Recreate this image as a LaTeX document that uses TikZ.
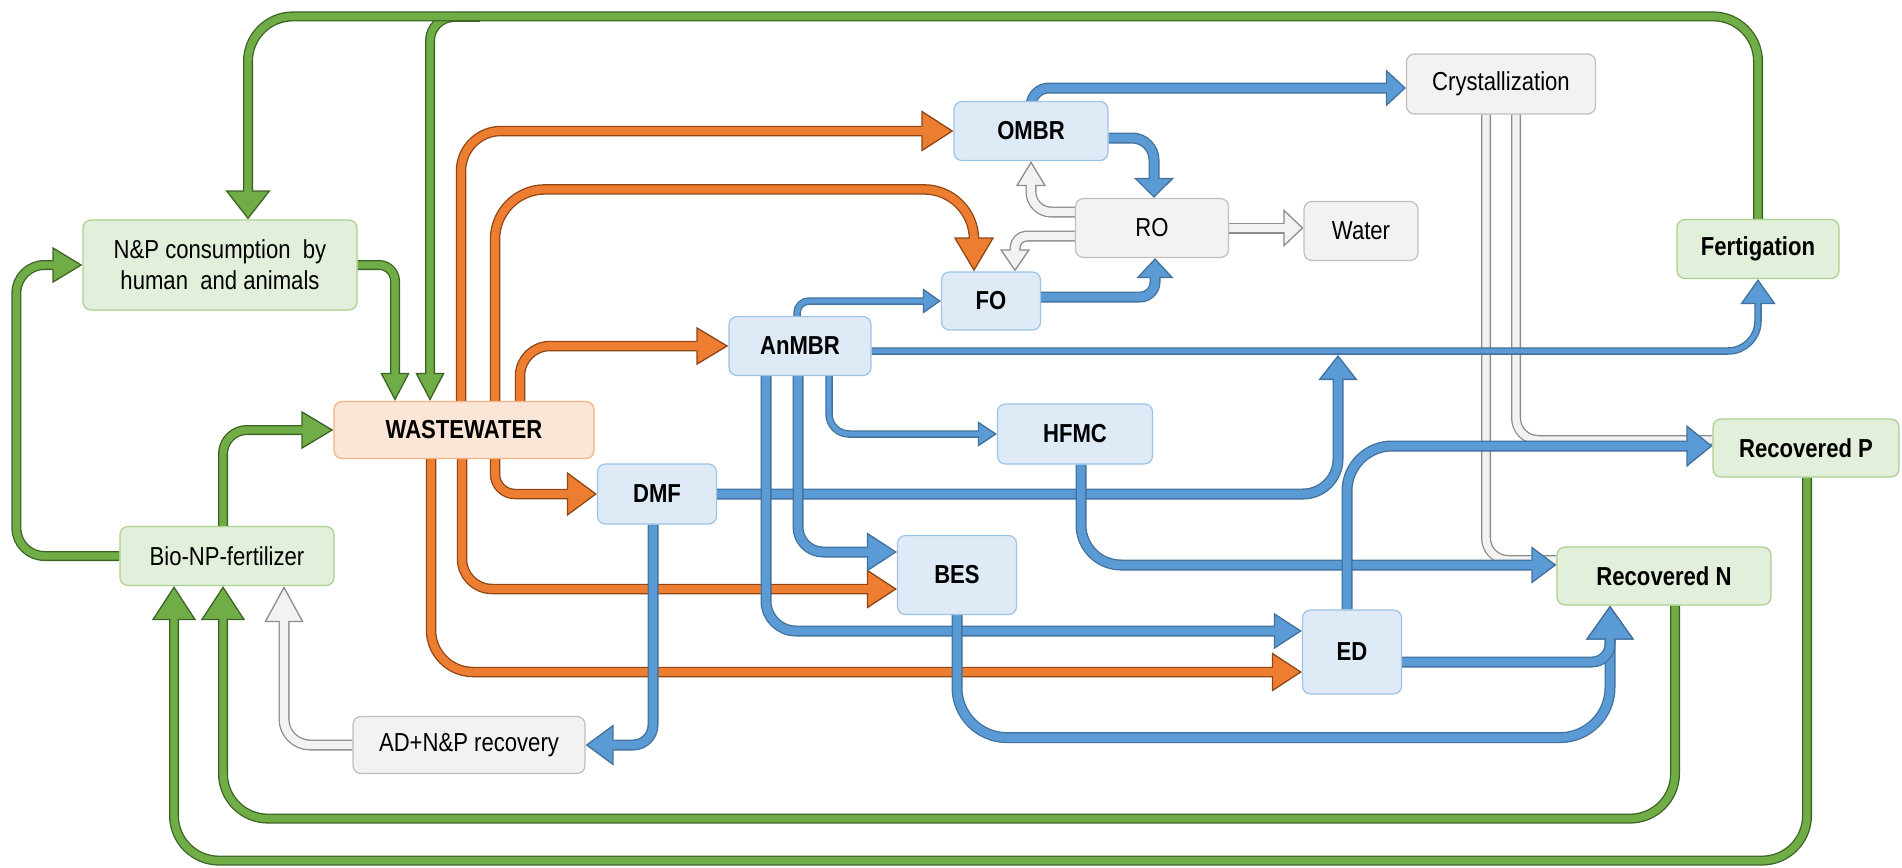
\documentclass[tikz,border=0pt]{standalone}
\usepackage{fontspec}
\setmainfont{Liberation Sans}[FakeStretch=0.85]
\usetikzlibrary{arrows.meta}
\pgfdeclarelayer{background}
\pgfsetlayers{background,main}
\definecolor{bxblue}{HTML}{DEEBF7}
\definecolor{bdblue}{HTML}{9DC3E6}
\definecolor{bxgreen}{HTML}{E2EFDA}
\definecolor{bdgreen}{HTML}{A9D18E}
\definecolor{bxgrey}{HTML}{F2F2F2}
\definecolor{bdgrey}{HTML}{BFBFBF}
\definecolor{bxpeach}{HTML}{FBE5D6}
\definecolor{bdpeach}{HTML}{F4B183}
\definecolor{gfill}{HTML}{70AD47}
\definecolor{gdark}{HTML}{3B6324}
\definecolor{ofill}{HTML}{ED7D31}
\definecolor{odark}{HTML}{8F4614}
\definecolor{bfill}{HTML}{5B9BD5}
\definecolor{bdark}{HTML}{41719C}
\definecolor{hfill}{HTML}{F2F2F2}
\definecolor{hdark}{HTML}{8C8C8C}
\newcommand{\fsz}{\fontsize{26}{31}\selectfont}
\tikzset{
  box/.style={rounded corners=8pt, line width=1.2pt, inner sep=0pt, align=center, font=\fsz},
  bluebox/.style={box, fill=bxblue, draw=bdblue, font=\fsz\bfseries},
  greenbox/.style={box, fill=bxgreen, draw=bdgreen},
  greenboxb/.style={box, fill=bxgreen, draw=bdgreen, font=\fsz\bfseries},
  greybox/.style={box, fill=bxgrey, draw=bdgrey},
  peachbox/.style={box, fill=bxpeach, draw=bdpeach, font=\fsz\bfseries},
  conn/.style n args={5}{draw=#1, line width=#3, line join=round,
    -{Triangle[width=#4, length=#5, line width=1.3pt, fill=#2]},
    postaction={draw=#2, line width=#3-2.6pt, arrows=-, shorten >=#5-2pt}},
  pipe/.style n args={3}{draw=#1, line width=#3, line join=round,
    postaction={draw=#2, line width=#3-2.6pt}},
  gA/.style 2 args={conn={gdark}{gfill}{10pt}{#1}{#2}},
  oA/.style 2 args={conn={odark}{ofill}{10.5pt}{#1}{#2}},
  bA/.style 2 args={conn={bdark}{bfill}{11pt}{#1}{#2}},
  btA/.style 2 args={conn={bdark}{bfill}{7.5pt}{#1}{#2}},
  hA/.style 2 args={conn={hdark}{hfill}{11pt}{#1}{#2}},
  hpipe/.style={pipe={hdark}{hfill}{10pt}},
}
\begin{document}
\begin{tikzpicture}[x=1pt,y=-1pt]
\useasboundingbox (0,0) rectangle (1902,867);
% nodes
\node[greenbox, minimum width=274pt, minimum height=90pt] (np) at (220,265) {N\&P consumption\ \ by\\human\ \ and animals};
\node[peachbox, minimum width=260pt, minimum height=57pt] (ww) at (464,430) {WASTEWATER};
\node[greenbox, minimum width=214pt, minimum height=59pt] (bio) at (227,556) {Bio-NP-fertilizer};
\node[greybox, minimum width=232pt, minimum height=57pt] (ad) at (469,745) {AD+N\&P recovery};
\node[bluebox, minimum width=119pt, minimum height=60pt] (dmf) at (657,494) {DMF};
\node[bluebox, minimum width=154pt, minimum height=59pt] (ombr) at (1031,131) {OMBR};
\node[greybox, minimum width=153pt, minimum height=59pt] (ro) at (1152,228) {RO};
\node[greybox, minimum width=114pt, minimum height=59pt] (water) at (1361,231) {Water};
\node[greybox, minimum width=189pt, minimum height=60pt] (crys) at (1501,84) {Crystallization};
\node[greenboxb, minimum width=162pt, minimum height=59pt] (fert) at (1758,249) {Fertigation};
\node[bluebox, minimum width=99pt, minimum height=58pt] (fo) at (991,301) {FO};
\node[bluebox, minimum width=142pt, minimum height=59pt] (anmbr) at (800,346) {AnMBR};
\node[bluebox, minimum width=155pt, minimum height=60pt] (hfmc) at (1075,434) {HFMC};
\node[bluebox, minimum width=119pt, minimum height=79pt] (bes) at (957,575) {BES};
\node[bluebox, minimum width=99pt, minimum height=84pt] (ed) at (1352,652) {ED};
\node[greenboxb, minimum width=214pt, minimum height=58pt] (recn) at (1664,576) {Recovered N};
\node[greenboxb, minimum width=186pt, minimum height=58pt] (recp) at (1806,448) {Recovered P};
\coordinate (topj) at (480,17);
\coordinate (dmfj) at (1338,355);
\begin{pgfonlayer}{background}
% green
\draw[gA={29pt}{28pt}, rounded corners=24pt] (topj) -| ([xshift=-34pt]ww.north);
\draw[gA={45pt}{29pt}, rounded corners=45pt] (fert.north) |- ([xshift=28pt,yshift=203pt]np.north) -- ([xshift=28pt]np.north);
\draw[gA={29pt}{28pt}, rounded corners=16pt] (np.east) -| ([xshift=-69pt]ww.north);
\draw[gA={36pt}{30pt}, rounded corners=28pt] (bio.west) -| ([xshift=-66pt]np.west) -- (np.west);
\draw[gA={38pt}{32pt}, rounded corners=24pt] ([xshift=-4pt]bio.north) |- (ww.west);
\draw[gA={44pt}{34pt}, rounded corners=45pt] ([xshift=11pt]recn.south) |- ([xshift=-4pt,yshift=-232.5pt]bio.south) -- ([xshift=-4pt]bio.south);
\draw[gA={44pt}{34pt}, rounded corners=45pt] ([xshift=1pt]recp.south) |- ([xshift=-53pt,yshift=-274.5pt]bio.south) -- ([xshift=-53pt]bio.south);
% grey
\draw[hA={39pt}{36pt}, rounded corners=26pt] (ad.west) -| ([xshift=57pt]bio.south);
\draw[hA={30pt}{25pt}, rounded corners=20pt] ([yshift=16pt]ro.west) -| (ombr.south);
\draw[hA={30pt}{22pt}, rounded corners=12pt] ([yshift=-8pt]ro.west) -| ([xshift=24pt]fo.north);
\draw[hA={38pt}{20pt}] (ro.east) -- (ro.east -| water.west);
\draw[hpipe, rounded corners=22pt] ([xshift=-15pt]crys.south) |- ([yshift=16pt]recn.west);
\draw[hpipe, rounded corners=22pt] ([xshift=15pt]crys.south) |- ([yshift=8pt]recp.west);
% orange
\draw[oA={41pt}{32pt}, rounded corners=40pt] ([xshift=-3pt]ww.north) |- (ombr.west);
\draw[oA={40pt}{34pt}, rounded corners=50pt] ([xshift=31pt]ww.north) |- ([xshift=-17pt,yshift=82pt]fo.north) -- ([xshift=-17pt]fo.north);
\draw[oA={38pt}{32pt}, rounded corners=30pt] ([xshift=56pt]ww.north) |- (anmbr.west);
\draw[oA={44pt}{30pt}, rounded corners=20pt] ([xshift=31pt]ww.south) |- (dmf.west);
\draw[oA={39pt}{30pt}, rounded corners=30pt] ([xshift=-2pt]ww.south) |- ([yshift=-14pt]bes.west);
\draw[oA={39pt}{30pt}, rounded corners=42pt] ([xshift=-33pt]ww.south) |- ([yshift=-20pt]ed.west);
% blue
\draw[bA={37pt}{20pt}, rounded corners=18pt] (ombr.north) |- ([yshift=-4pt]crys.west);
\draw[bA={40pt}{20pt}, rounded corners=22pt] ([yshift=-7pt]ombr.east) -| ([xshift=2pt]ro.north);
\draw[bA={37pt}{20pt}, rounded corners=15pt] ([yshift=4pt]fo.east) -| ([xshift=3pt]ro.south);
\draw[btA={25pt}{18pt}, rounded corners=12pt] ([xshift=-3pt]anmbr.north) |- (fo.west);
\draw[btA={35pt}{25pt}, rounded corners=30pt] ([yshift=-5pt]anmbr.east) -| (fert.south);
\draw[bA={39pt}{25pt}, rounded corners=35pt] (dmf.east) -| (dmfj);
\draw[bA={41pt}{28pt}, rounded corners=20pt] ([xshift=-4pt]dmf.south) |- (ad.east);
\draw[bA={36pt}{28pt}, rounded corners=30pt] ([xshift=-34pt]anmbr.south) |- ([yshift=21pt]ed.west);
\draw[bA={39pt}{30pt}, rounded corners=25pt] ([xshift=-2pt]anmbr.south) |- ([yshift=23pt]bes.west);
\draw[btA={25pt}{19pt}, rounded corners=20pt] ([xshift=29pt]anmbr.south) |- (hfmc.west);
\draw[bA={37pt}{25pt}, rounded corners=40pt] ([xshift=6pt]hfmc.south) |- ([yshift=11pt]recn.west);
\draw[bA={48pt}{34pt}, rounded corners=50pt] (bes.south) |- ([xshift=-54pt,yshift=-132pt]recn.south) -- ([xshift=-54pt]recn.south);
\draw[bA={48pt}{34pt}, rounded corners=18pt] ([yshift=-10pt]ed.east) -| ([xshift=-54pt]recn.south);
\draw[bA={42pt}{26pt}, rounded corners=45pt] ([xshift=-5pt]ed.north) |- ([yshift=2pt]recp.west);
\end{pgfonlayer}
\end{tikzpicture}
\end{document}
